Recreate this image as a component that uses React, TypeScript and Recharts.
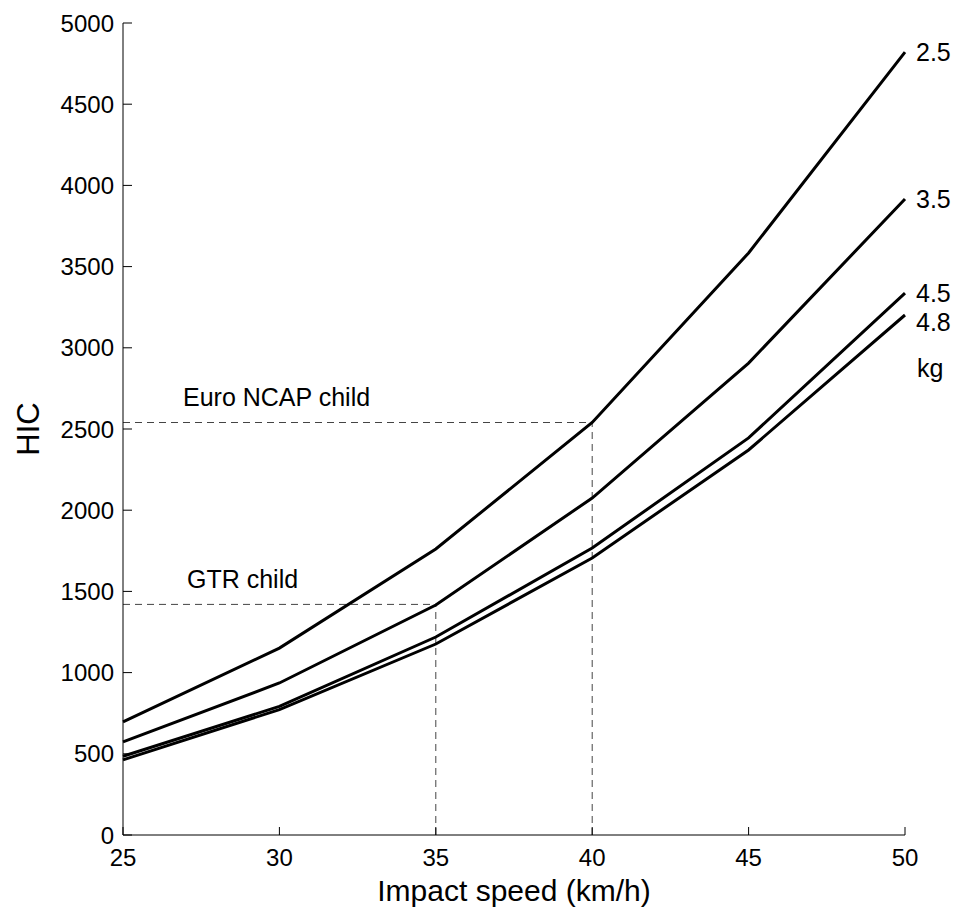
import React from 'react';
import { LineChart, Line, XAxis, YAxis, ReferenceLine } from 'recharts';

const speeds = [25, 30, 35, 40, 45, 50];
const hic25 = [696, 1151, 1761, 2540, 3584, 4821];
const hic35 = [573, 936, 1416, 2075, 2906, 3916];
const hic45 = [485, 792, 1219, 1767, 2445, 3337];
const hic48 = [463, 772, 1176, 1706, 2371, 3202];
const masses = ['2.5', '3.5', '4.5', '4.8'];
const xTicks = [25, 30, 35, 40, 45, 50];
const yTicks = [0, 500, 1000, 1500, 2000, 2500, 3000, 3500, 4000, 4500, 5000];

const euroNcapSpeed = 40;
const euroNcapHic = 2540;
const gtrSpeed = 35;
const gtrHic = 1420;

const data = speeds.map((s, i) => ({
  speed: s,
  m25: hic25[i],
  m35: hic35[i],
  m45: hic45[i],
  m48: hic48[i],
}));

const font = '"Liberation Sans", Arial, sans-serif';
const ink = '#000';
const dash = '#444';

const series = [
  { key: 'm25', name: masses[0], dy: 0, unit: false },
  { key: 'm35', name: masses[1], dy: 0, unit: false },
  { key: 'm45', name: masses[2], dy: 0, unit: false },
  { key: 'm48', name: masses[3], dy: 7, unit: true },
];

// text after the last point of each curve; the 4.8 one also carries "kg"
const endLabel = (name: string, dy: number, unit: boolean) => (props: any) => {
  if (props.index !== speeds.length - 1) return null;
  const x = props.viewBox?.x ?? props.x;
  const y = props.viewBox?.y ?? props.y;
  return (
    <g>
      <text x={x + 11} y={y + dy} dy="0.36em" fontSize={25} fontFamily={font} fill={ink}>
        {name}
      </text>
      {unit && (
        <text x={x + 12} y={y + dy + 46} dy="0.36em" fontSize={25} fontFamily={font} fill={ink}>
          kg
        </text>
      )}
    </g>
  );
};

const limitLabel = (text: string, dx: number, dy: number) => (props: any) => {
  const vb = props.viewBox;
  return (
    <text x={vb.x + dx} y={vb.y - dy} fontSize={25} fontFamily={font} fill={ink}>
      {text}
    </text>
  );
};

const hicLabel = (props: any) => {
  const vb = props.viewBox;
  const cx = vb.x + 28;
  const cy = vb.y + vb.height / 2;
  return (
    <text
      x={cx}
      y={cy}
      transform={`rotate(-90 ${cx} ${cy})`}
      textAnchor="middle"
      dy="0.36em"
      fontSize={31}
      fontFamily={font}
      fill={ink}
    >
      HIC
    </text>
  );
};

export default function App() {
  return (
    <div style={{ position: 'absolute', left: 0, top: 0, background: '#fff' }}>
      <LineChart
        width={956}
        height={916}
        data={data}
        margin={{ top: 23, right: 51, bottom: 0, left: 0 }}
      >
        <XAxis
          dataKey="speed"
          type="number"
          domain={[25, 50]}
          ticks={xTicks}
          height={81}
          stroke={ink}
          tickSize={-8}
          tickMargin={22}
          tick={{ fill: ink, fontSize: 24, fontFamily: font }}
          label={{
            value: 'Impact speed (km/h)',
            position: 'insideBottom',
            offset: 15,
            style: { fill: ink, fontSize: 30, fontFamily: font },
          }}
        />
        <YAxis
          type="number"
          domain={[0, 5000]}
          ticks={yTicks}
          width={123}
          stroke={ink}
          tickSize={-9}
          tickMargin={18}
          tick={{ fill: ink, fontSize: 24, fontFamily: font }}
          label={hicLabel}
        />
        <ReferenceLine
          segment={[
            { x: 25, y: euroNcapHic },
            { x: euroNcapSpeed, y: euroNcapHic },
          ]}
          stroke={dash}
          strokeDasharray="7 5"
          label={limitLabel('Euro NCAP child', 60, 17)}
        />
        <ReferenceLine
          segment={[
            { x: euroNcapSpeed, y: 0 },
            { x: euroNcapSpeed, y: euroNcapHic },
          ]}
          stroke={dash}
          strokeDasharray="7 5"
        />
        <ReferenceLine
          segment={[
            { x: 25, y: gtrHic },
            { x: gtrSpeed, y: gtrHic },
          ]}
          stroke={dash}
          strokeDasharray="7 5"
          label={limitLabel('GTR child', 64, 16)}
        />
        <ReferenceLine
          segment={[
            { x: gtrSpeed, y: 0 },
            { x: gtrSpeed, y: gtrHic },
          ]}
          stroke={dash}
          strokeDasharray="7 5"
        />
        {series.map((s) => (
          <Line
            key={s.key}
            type="linear"
            dataKey={s.key}
            name={s.name}
            stroke={ink}
            strokeWidth={3}
            dot={false}
            activeDot={false}
            isAnimationActive={false}
            label={endLabel(s.name, s.dy, s.unit)}
          />
        ))}
      </LineChart>
    </div>
  );
}
